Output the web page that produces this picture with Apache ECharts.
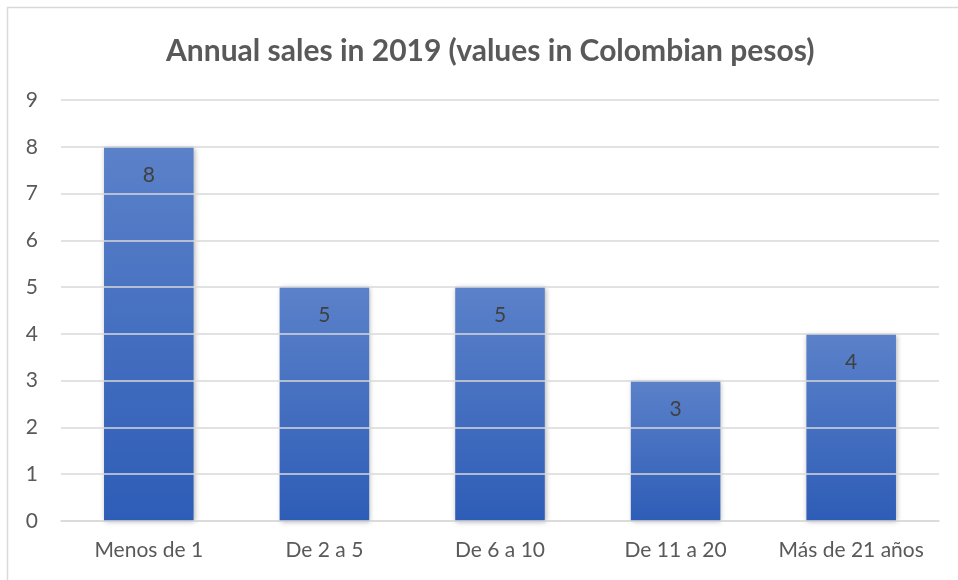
<!DOCTYPE html>
<html>
<head>
<meta charset="utf-8">
<script src="https://cdn.jsdelivr.net/npm/echarts@6/dist/echarts.min.js"></script>
<style>
  html, body { margin: 0; padding: 0; background: #fff; }
  #chart { width: 958px; height: 580px; }
</style>
</head>
<body>
<div id="chart"></div>
<script>
// Company age groups and their counts
const categories = ['Menos de 1', 'De 2 a 5', 'De 6 a 10', 'De 11 a 20', 'Más de 21 años'];
const values = [8, 5, 5, 3, 4];
const yTicks = [0, 1, 2, 3, 4, 5, 6, 7, 8, 9];

const chart = echarts.init(document.getElementById('chart'));
const font = 'Lato, "Open Sans", sans-serif';

chart.setOption({
  animation: false,
  backgroundColor: '#ffffff',
  title: {
    text: 'Annual sales in 2019 (values in Colombian pesos)',
    left: 161,
    top: 31,
    textStyle: { fontFamily: font, fontSize: 30, fontWeight: 'bold', color: '#595959' }
  },
  graphic: [{
    type: 'rect',
    shape: { x: 7.5, y: 7.5, width: 960, height: 580 },
    style: { fill: 'none', stroke: '#d9d9d9', lineWidth: 1.5 },
    silent: true
  }],
  grid: { left: 61, right: 19, top: 100, bottom: 59 },
  xAxis: {
    type: 'category',
    data: categories,
    axisLine: { lineStyle: { color: '#d9d9d9', width: 1.5 } },
    axisTick: { show: false },
    axisLabel: {
      interval: 0,
      hideOverlap: false,
      fontFamily: font,
      fontSize: 21,
      color: '#595959',
      margin: 19
    }
  },
  yAxis: {
    type: 'value',
    min: yTicks[0],
    max: yTicks[yTicks.length - 1],
    interval: 1,
    z: 5,
    axisLine: { show: false },
    axisTick: { show: false },
    axisLabel: { fontFamily: font, fontSize: 21, color: '#595959', margin: 23 },
    splitLine: { lineStyle: { color: '#d9d9d9', width: 1.5 } }
  },
  series: [{
    type: 'bar',
    data: values,
    barWidth: '51%',
    itemStyle: {
      color: new echarts.graphic.LinearGradient(0, 0, 0, 1, [
        { offset: 0, color: '#5b81c9' },
        { offset: 1, color: '#2e5db7' }
      ]),
      shadowBlur: 5,
      shadowColor: 'rgba(0,0,0,0.3)',
      shadowOffsetX: 1,
      shadowOffsetY: 1
    },
    label: {
      show: true,
      position: 'insideTop',
      distance: 18,
      fontFamily: font,
      fontSize: 21,
      color: '#404040'
    }
  }]
});
</script>
</body>
</html>
